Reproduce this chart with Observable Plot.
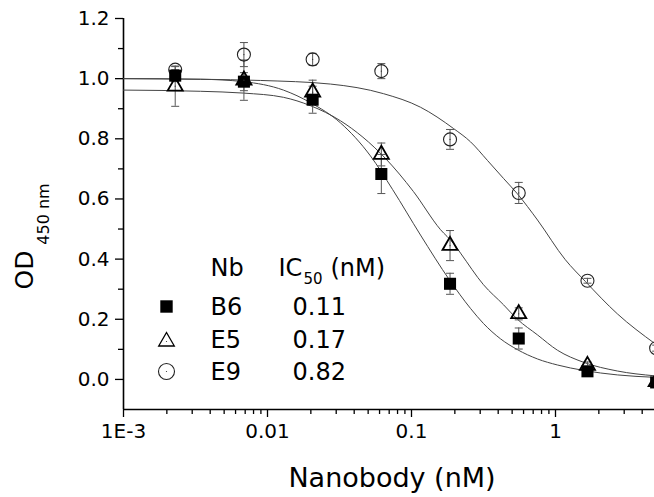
<!DOCTYPE html>
<html><head><meta charset="utf-8">
<script src="https://cdn.jsdelivr.net/npm/d3@7"></script>
<script src="https://cdn.jsdelivr.net/npm/@observablehq/plot@0.6"></script>
<style>html,body{margin:0;padding:0;background:#fff;overflow:hidden}#chart{position:relative;width:654px;height:497px}</style>
</head><body><div id="chart"></div>
<script>
// ---- data ----
const conc = [0.002286, 0.006859, 0.02058, 0.06173, 0.1852, 0.5556, 1.667, 5.0];
const seriesNames = ["B6", "E5", "E9"];
const ic50Labels = ["0.11", "0.17", "0.82"];

const b6Mean = [1.01, 0.99, 0.93, 0.683, 0.318, 0.136, 0.027, -0.01];
const b6Err  = [0.02, 0.03, 0.045, 0.065, 0.035, 0.035, 0.01, 0.01];
const e5Mean = [0.975, 0.995, 0.955, 0.748, 0.445, 0.218, 0.046, -0.008];
const e5Err  = [0.067, 0.067, 0.04, 0.038, 0.05, 0.02, 0.012, 0.01];
const e9Mean = [1.03, 1.08, 1.064, 1.025, 0.798, 0.62, 0.328, 0.104];
const e9Err  = [0.01, 0.04, 0.02, 0.025, 0.033, 0.035, 0.008, 0.01];

// fitted curves
const b6FitX = [0.001, 0.00343, 0.00681, 0.0129, 0.0199, 0.0321, 0.0519, 0.0738, 0.1155, 0.184, 0.257, 0.316, 0.415, 0.544, 0.75, 1.032, 1.565, 2.69, 4.87];
const b6FitY = [1.0, 0.998, 0.99, 0.962, 0.92, 0.853, 0.743, 0.632, 0.48, 0.33, 0.236, 0.186, 0.135, 0.099, 0.068, 0.048, 0.03, 0.015, 0.007];
const e5FitX = [0.001, 0.00343, 0.00681, 0.0129, 0.0199, 0.0321, 0.0659, 0.103, 0.159, 0.196, 0.219, 0.316, 0.436, 0.544, 0.75, 1.032, 1.565, 2.69, 4.87];
const e5FitY = [0.962, 0.958, 0.952, 0.938, 0.91, 0.86, 0.735, 0.625, 0.498, 0.452, 0.42, 0.315, 0.248, 0.2, 0.148, 0.097, 0.057, 0.028, 0.012];
const e9FitX = [0.001, 0.00343, 0.00893, 0.0274, 0.064, 0.1155, 0.196, 0.257, 0.337, 0.436, 0.544, 0.75, 1.17, 1.61, 2.69, 4.87];
const e9FitY = [1.0, 0.998, 0.994, 0.982, 0.95, 0.905, 0.834, 0.79, 0.728, 0.668, 0.617, 0.53, 0.398, 0.326, 0.218, 0.12];

const xTicks = [0.001, 0.01, 0.1, 1];
const xTickLabels = ["1E-3", "0.01", "0.1", "1"];
const yTicks = [0, 0.2, 0.4, 0.6, 0.8, 1.0, 1.2];
const yTickLabels = ["0.0", "0.2", "0.4", "0.6", "0.8", "1.0", "1.2"];
const yMinorTicks = [0.1, 0.3, 0.5, 0.7, 0.9, 1.1];

// ---- tables ----
const means = {B6: b6Mean, E5: e5Mean, E9: e9Mean};
const errs = {B6: b6Err, E5: e5Err, E9: e9Err};
const points = seriesNames.flatMap(s => conc.map((c, i) => ({series: s, conc: c, od: means[s][i], err: errs[s][i]})));
const ptsOf = s => points.filter(d => d.series === s);
const fit = (xs, ys, s) => xs.map((x, i) => ({series: s, conc: x, od: ys[i]}));
const fits = [...fit(b6FitX, b6FitY, "B6"), ...fit(e5FitX, e5FitY, "E5"), ...fit(e9FitX, e9FitY, "E9")];

const xMinor = [];
for (let d = -3; d <= 0; d++) for (let k = 2; k <= 9; k++) { const v = k * Math.pow(10, d); if (v < 4.87) xMinor.push(v); }

const capSymbol = {draw(ctx) { ctx.moveTo(-4, 0); ctx.lineTo(4, 0); }};
const errColor = "#555";
const font = "DejaVu Sans";

// legend layout (pixel offsets from the frame's top-left corner)
const legendRows = [288, 321, 353];
const legendBase = [296, 329, 361];

const marks = [
  // axes
  Plot.axisX({ticks: xMinor, tickSize: 5, tickFormat: () => "", label: null, strokeWidth: 1.3}),
  Plot.axisX({ticks: xTicks, tickFormat: d => xTickLabels[xTicks.indexOf(d)], tickSize: 8, tickPadding: 6, fontSize: 20, label: null, strokeWidth: 1.3}),
  Plot.axisY({ticks: yMinorTicks, tickSize: 5, tickFormat: () => "", label: null, strokeWidth: 1.3}),
  Plot.axisY({ticks: yTicks, tickFormat: d => yTickLabels[yTicks.indexOf(d)], tickSize: 8, tickPadding: 6, fontSize: 20, label: null, strokeWidth: 1.3}),
  Plot.ruleX([0.001], {stroke: "black", strokeWidth: 1.6}),
  Plot.ruleY([-0.1], {stroke: "black", strokeWidth: 1.6}),
  // fitted curves
  Plot.line(fits, {x: "conc", y: "od", z: "series", stroke: "#444", strokeWidth: 1, curve: "monotone-x"}),
  // error bars
  Plot.ruleX(points, {x: "conc", y1: d => d.od - d.err, y2: d => d.od + d.err, stroke: errColor, strokeWidth: 1}),
  Plot.dot(points, {x: "conc", y: d => d.od + d.err, symbol: capSymbol, r: 4, stroke: errColor, fill: "none", strokeWidth: 1}),
  Plot.dot(points, {x: "conc", y: d => d.od - d.err, symbol: capSymbol, r: 4, stroke: errColor, fill: "none", strokeWidth: 1}),
  // markers
  Plot.dot(ptsOf("E9"), {x: "conc", y: "od", symbol: "circle", r: 6.5, fill: "none", stroke: "#222", strokeWidth: 1.1}),
  Plot.dot(ptsOf("E9"), {x: "conc", y: "od", r: 0.6, fill: "#333"}),
  Plot.dot(ptsOf("B6"), {x: "conc", y: "od", symbol: "square", r: 6.8, fill: "black", stroke: "none"}),
  Plot.dot(ptsOf("E5"), {x: "conc", y: "od", symbol: "triangle", r: 5.6, fill: "none", stroke: "black", strokeWidth: 1.8}),
  Plot.dot(ptsOf("E5"), {x: "conc", y: "od", r: 0.6, fill: "#333"}),
  // axis titles
  Plot.text(["OD"], {frameAnchor: "left", dx: -99, dy: 56, rotate: -90, fontSize: 25, textAnchor: "middle", lineAnchor: "middle", fill: "black"}),
  Plot.text(["450 nm"], {frameAnchor: "left", dx: -80, dy: 0, rotate: -90, fontSize: 16, textAnchor: "middle", lineAnchor: "middle", fill: "black"}),
  Plot.text(["Nanobody (nM)"], {frameAnchor: "bottom", dx: 3, dy: 69, fontSize: 27, textAnchor: "middle", lineAnchor: "middle", fill: "black"}),
  // legend header
  Plot.text(["Nb"], {frameAnchor: "top-left", dx: 87, dy: 250, fontSize: 24, textAnchor: "start", lineAnchor: "middle", fill: "black"}),
  Plot.text(["IC"], {frameAnchor: "top-left", dx: 155, dy: 250, fontSize: 24, textAnchor: "start", lineAnchor: "middle", fill: "black"}),
  Plot.text(["50"], {frameAnchor: "top-left", dx: 180, dy: 261, fontSize: 15, textAnchor: "start", lineAnchor: "middle", fill: "black"}),
  Plot.text(["(nM)"], {frameAnchor: "top-left", dx: 207, dy: 250, fontSize: 24, textAnchor: "start", lineAnchor: "middle", fill: "black"}),
  // legend rows
  ...seriesNames.map((s, i) => Plot.text([s], {frameAnchor: "top-left", dx: 87, dy: legendBase[i] - 7, fontSize: 24, textAnchor: "start", lineAnchor: "middle", fill: "black"})),
  ...ic50Labels.map((s, i) => Plot.text([s], {frameAnchor: "top-left", dx: 169, dy: legendBase[i] - 7, fontSize: 24, textAnchor: "start", lineAnchor: "middle", fill: "black"})),
  Plot.dot([0], {frameAnchor: "top-left", dx: 43, dy: legendRows[0], symbol: "square", r: 7, fill: "black", stroke: "none"}),
  Plot.dot([0], {frameAnchor: "top-left", dx: 43, dy: legendRows[1] + 2, symbol: "triangle", r: 5.8, fill: "none", stroke: "black", strokeWidth: 1.3}),
  Plot.dot([0], {frameAnchor: "top-left", dx: 43, dy: legendRows[1] + 2, r: 0.6, fill: "#333"}),
  Plot.dot([0], {frameAnchor: "top-left", dx: 43, dy: legendRows[2], symbol: "circle", r: 8, fill: "none", stroke: "#222", strokeWidth: 1.1}),
  Plot.dot([0], {frameAnchor: "top-left", dx: 43, dy: legendRows[2], r: 0.6, fill: "#333"})
];

const chart = Plot.plot({
  width: 654, height: 497,
  marginLeft: 123, marginRight: 0, marginTop: 18, marginBottom: 88,
  x: {type: "log", domain: [0.001, 4.87], label: null},
  y: {domain: [-0.1, 1.2], label: null},
  style: {fontFamily: font, background: "white", color: "black", overflow: "hidden"},
  marks
});
document.getElementById("chart").appendChild(chart);
</script>
</body></html>
